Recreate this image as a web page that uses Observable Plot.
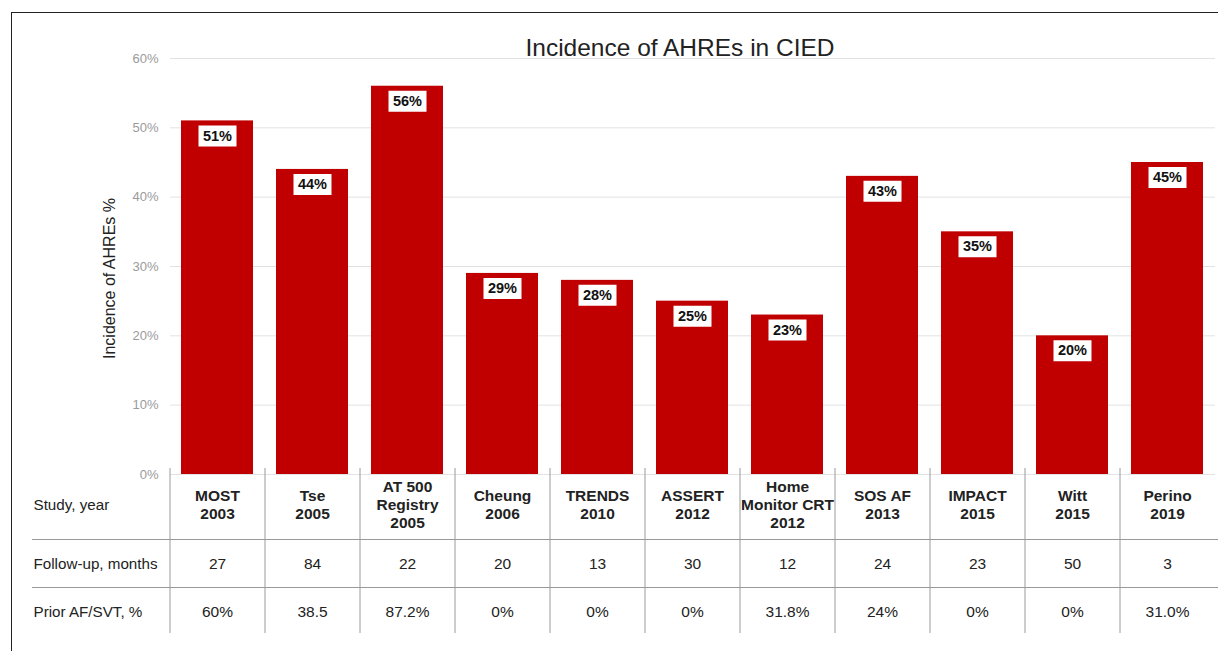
<!DOCTYPE html>
<html>
<head>
<meta charset="utf-8">
<script src="https://cdn.jsdelivr.net/npm/d3@7"></script>
<script src="https://cdn.jsdelivr.net/npm/@observablehq/plot@0.6"></script>
<style>
  html, body { margin: 0; padding: 0; background: #fff; }
  #wrap { position: relative; width: 1218px; height: 651px; overflow: hidden; font-family: "Liberation Sans", Arial, sans-serif; }
  #frame { position: absolute; left: 11px; top: 12px; width: 1400px; height: 800px; border-left: 1.5px solid #222; border-top: 1.5px solid #222; }
  #chart { position: absolute; left: 0; top: 0; }
  #title { position: absolute; top: 34px; left: 680px; transform: translateX(-50%); font-size: 24.5px; line-height: 28px; color: #222; white-space: nowrap; }
</style>
</head>
<body>
<div id="wrap">
  <div id="frame"></div>
  <div id="chart"></div>
  <div id="title">Incidence of AHREs in CIED</div>
</div>
<script>
const studyKeys = ["MOST", "Tse", "AT 500 Registry", "Cheung", "TRENDS", "ASSERT", "Home Monitor CRT", "SOS AF", "IMPACT", "Witt", "Perino"];
const studyLabels = ["MOST\n2003", "Tse\n2005", "AT 500\nRegistry\n2005", "Cheung\n2006", "TRENDS\n2010", "ASSERT\n2012", "Home\nMonitor CRT\n2012", "SOS AF\n2013", "IMPACT\n2015", "Witt\n2015", "Perino\n2019"];
const incidence = [0.51, 0.44, 0.56, 0.29, 0.28, 0.25, 0.23, 0.43, 0.35, 0.20, 0.45];
const followUp = ["27", "84", "22", "20", "13", "30", "12", "24", "23", "50", "3"];
const priorAF = ["60%", "38.5", "87.2%", "0%", "0%", "0%", "31.8%", "24%", "0%", "0%", "31.0%"];
const rowLabels = ["Study, year", "Follow-up, months", "Prior AF/SVT, %"];
const yTicks = [0, 0.1, 0.2, 0.3, 0.4, 0.5, 0.6];
const yLabel = "Incidence of AHREs %";

const data = studyKeys.map((k, i) => ({
  key: k, label: studyLabels[i], value: incidence[i], follow: followUp[i], prior: priorAF[i]
}));

const pct = d => Math.round(d * 100) + "%";
const boxSymbol = { draw(ctx) { ctx.rect(-19, -10.5, 38, 21); } };

const plot = Plot.plot({
  width: 1218,
  height: 651,
  marginTop: 58,
  marginBottom: 177,
  marginLeft: 170,
  marginRight: 3,
  style: { fontFamily: "'Liberation Sans', Arial, sans-serif", background: "transparent", overflow: "visible" },
  x: { domain: studyKeys, paddingInner: 0.24, paddingOuter: 0.12, axis: null },
  y: { domain: [0, 0.6] },
  marks: [
    Plot.gridY(yTicks, { stroke: "#e2e2e2", strokeOpacity: 1, strokeWidth: 1 }),
    Plot.axisY(yTicks, { tickSize: 0, tickPadding: 12, fontSize: 13, fill: "#9a9a9a", tickFormat: pct, label: null }),
    Plot.text([yLabel], { frameAnchor: "left", textAnchor: "middle", lineAnchor: "middle", rotate: -90, dx: -61, dy: 12, fontSize: 16, fill: "#222" }),
    Plot.barY(data, { x: "key", y: "value", fill: "#c00000" }),
    Plot.dot(data, { x: "key", y: "value", dy: 15, symbol: boxSymbol, r: 5, fill: "white", stroke: "none" }),
    Plot.text(data, { x: "key", y: "value", dy: 15, text: d => pct(d.value), fontSize: 14.5, fontWeight: "bold", fill: "#111" }),
    // table structure
    Plot.ruleX(studyKeys, { x: d => d, dx: -47.5, insetTop: 410, insetBottom: -159, stroke: "#9a9a9a", strokeWidth: 1 }),
    Plot.ruleY([0], { dy: 65, insetLeft: -138, insetRight: -3, stroke: "#9a9a9a", strokeWidth: 1 }),
    Plot.ruleY([0], { dy: 113, insetLeft: -138, insetRight: -3, stroke: "#9a9a9a", strokeWidth: 1 }),
    // table text
    Plot.text(data, { x: "key", text: "label", frameAnchor: "bottom", lineAnchor: "middle", dy: 30, fontSize: 15.5, fontWeight: "bold", lineHeight: 1.17, fill: "#222" }),
    Plot.text(data, { x: "key", text: "follow", frameAnchor: "bottom", lineAnchor: "middle", dy: 90, fontSize: 15.5, fill: "#222" }),
    Plot.text(data, { x: "key", text: "prior", frameAnchor: "bottom", lineAnchor: "middle", dy: 138, fontSize: 15.5, fill: "#222" }),
    Plot.text([rowLabels[0]], { frameAnchor: "bottom-left", textAnchor: "start", lineAnchor: "middle", dx: -137, dy: 31, fontSize: 15.2, fill: "#222" }),
    Plot.text([rowLabels[1]], { frameAnchor: "bottom-left", textAnchor: "start", lineAnchor: "middle", dx: -137, dy: 90, fontSize: 15.2, fill: "#222" }),
    Plot.text([rowLabels[2]], { frameAnchor: "bottom-left", textAnchor: "start", lineAnchor: "middle", dx: -137, dy: 138, fontSize: 15.2, fill: "#222" })
  ]
});
document.getElementById("chart").appendChild(plot);
</script>
</body>
</html>
